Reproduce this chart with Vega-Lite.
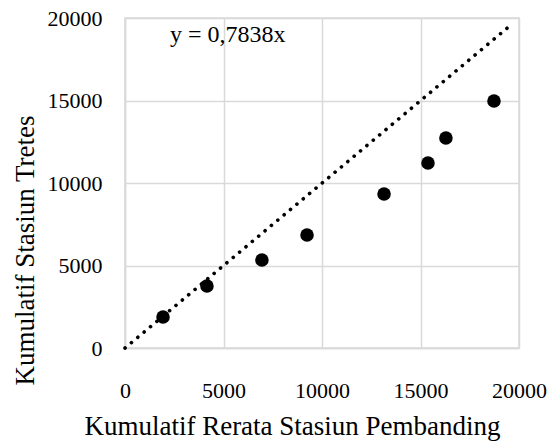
{
  "$schema": "https://vega.github.io/schema/vega-lite/v6.json",
  "autosize": "none",
  "width": 394,
  "height": 330,
  "padding": {"left": 125, "top": 18, "right": 31, "bottom": 100},
  "background": "white",
  "config": {
    "view": {"stroke": "#d9d9d9", "strokeWidth": 1.5},
    "font": "Liberation Serif",
    "axis": {
      "labelFont": "Liberation Serif",
      "titleFont": "Liberation Serif",
      "labelFontSize": 22,
      "titleFontSize": 27,
      "labelColor": "#000",
      "titleColor": "#000",
      "titleFontWeight": "normal",
      "ticks": false,
      "domainColor": "#d9d9d9",
      "domainWidth": 1.5,
      "gridColor": "#d9d9d9",
      "gridWidth": 1.5
    }
  },
  "datasets": {
    "pts": [
      {"x": 1930, "y": 1880},
      {"x": 4160, "y": 3760},
      {"x": 6950, "y": 5330},
      {"x": 9240, "y": 6850},
      {"x": 13150, "y": 9330},
      {"x": 15380, "y": 11210},
      {"x": 16290, "y": 12730},
      {"x": 18730, "y": 14970}
    ],
    "trend": [
      {"x": 0, "y": 0},
      {"x": 19650, "y": 19640}
    ],
    "label": [
      {"x": 2284, "y": 18545, "t": "y = 0,7838x"}
    ]
  },
  "layer": [
    {
      "data": {"name": "trend"},
      "mark": {"type": "line", "color": "#000", "strokeWidth": 3.6, "strokeDash": [0.1, 8.2], "strokeCap": "round"},
      "encoding": {
        "x": {"field": "x", "type": "quantitative", "scale": {"domain": [0, 20000], "nice": false},
              "axis": {"values": [0, 5000, 10000, 15000, 20000], "labelPadding": 32, "title": "Kumulatif Rerata Stasiun Pembanding", "titlePadding": 12, "titleX": 167, "titleAlign": "center", "format": "d", "labelFlush": false}},
        "y": {"field": "y", "type": "quantitative", "scale": {"domain": [0, 20000], "nice": false},
              "axis": {"values": [0, 5000, 10000, 15000, 20000], "labelPadding": 23, "title": "Kumulatif Stasiun Tretes", "titlePadding": 8, "titleY": 232, "titleAlign": "center", "format": "d", "labelFlush": false}}
      }
    },
    {
      "data": {"name": "pts"},
      "mark": {"type": "point", "filled": true, "color": "#000", "opacity": 1, "size": 184},
      "encoding": {
        "x": {"field": "x", "type": "quantitative"},
        "y": {"field": "y", "type": "quantitative"}
      }
    },
    {
      "data": {"name": "label"},
      "mark": {"type": "text", "align": "left", "baseline": "alphabetic", "fontSize": 24, "font": "Liberation Serif", "color": "#000"},
      "encoding": {
        "x": {"field": "x", "type": "quantitative"},
        "y": {"field": "y", "type": "quantitative"},
        "text": {"field": "t"}
      }
    }
  ]
}
